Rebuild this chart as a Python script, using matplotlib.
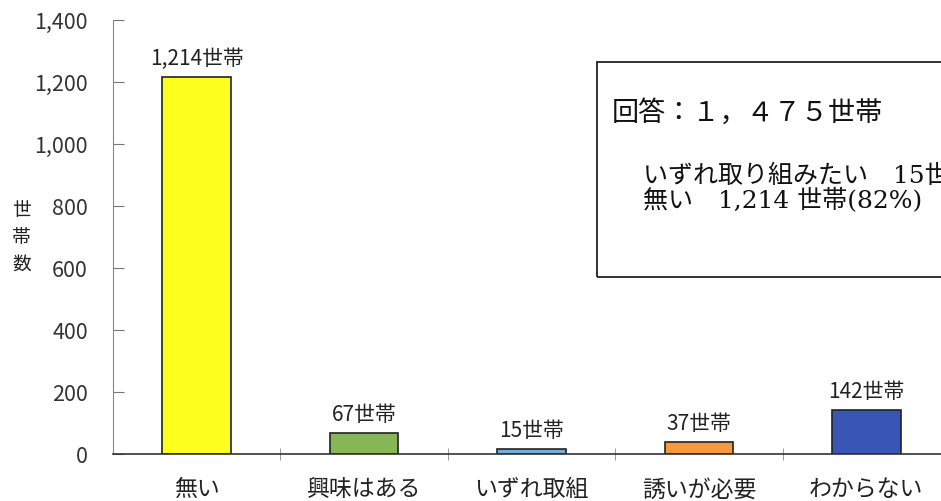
import numpy as np
import matplotlib.pyplot as plt
from matplotlib.patches import Rectangle

plt.rcParams['font.family'] = ['Noto Sans CJK JP', 'DejaVu Sans']

# data
categories = ["無い", "興味はある", "いずれ取組", "誘いが必要", "わからない"]
counts = [1214, 67, 15, 37, 142]
bar_colors = ["#FFFF1E", "#87B654", "#76AEDB", "#F7983E", "#3756B5"]
yticks = [0, 200, 400, 600, 800, 1000, 1200, 1400]

fig = plt.figure(figsize=(9.41, 5.02), dpi=100)
ax = fig.add_axes([0.120, 0.094, 0.8895, 0.865])

x = np.arange(len(categories))
ax.bar(x, counts, width=0.41, color=bar_colors, edgecolor="#222222", linewidth=1.2)

for xi, v in zip(x, counts):
    ax.text(xi, v + 26, f"{v:,}世帯", ha="center", va="bottom", fontsize=15, color="#222222")

ax.set_xlim(-0.5, 4.5)
ax.set_ylim(0, 1400)
ax.set_yticks(yticks)
ax.set_yticklabels([f"{t:,}" for t in yticks], fontsize=15.5, color="#333333")
ax.tick_params(axis="y", direction="in", length=8, color="#777777", pad=18)

ax.set_xticks(x)
ax.set_xticklabels(categories, fontsize=16.5, color="#222222")
ax.tick_params(axis="x", length=0, pad=17)
ax.set_xticks(np.arange(0.5, 4.5, 1.0), minor=True)
ax.tick_params(axis="x", which="minor", direction="inout", length=8, color="#888888")

for s in ["top", "right"]:
    ax.spines[s].set_visible(False)
ax.spines["left"].set_color("#888888")
ax.spines["bottom"].set_color("#333333")
ax.spines["bottom"].set_linewidth(1.2)

fig.text(0.023, 0.527, "世\n帯\n数", ha="center", va="center", fontsize=13.5,
         linespacing=1.35, color="#222222")

# summary box
box = Rectangle((597 / 941, 1 - 278 / 502), 0.5, (278 - 63) / 502,
                transform=fig.transFigure, fill=False, edgecolor="#222222",
                linewidth=1.3)
fig.patches.append(box)
fig.text(612 / 941, 1 - 113 / 502, "回答：１，４７５世帯", ha="left", va="center",
         fontsize=19.5, color="#111111")
fig.text(643 / 941, 1 - 176 / 502, "いずれ取り組みたい　15世帯(1%)", ha="left", va="center",
         fontsize=18, color="#111111", family=["DejaVu Serif", "Noto Sans CJK JP"])
fig.text(643 / 941, 1 - 201 / 502, "無い　1,214 世帯(82%)", ha="left", va="center",
         fontsize=18, color="#111111", family=["DejaVu Serif", "Noto Sans CJK JP"])

fig.savefig("out.png", dpi=100)
